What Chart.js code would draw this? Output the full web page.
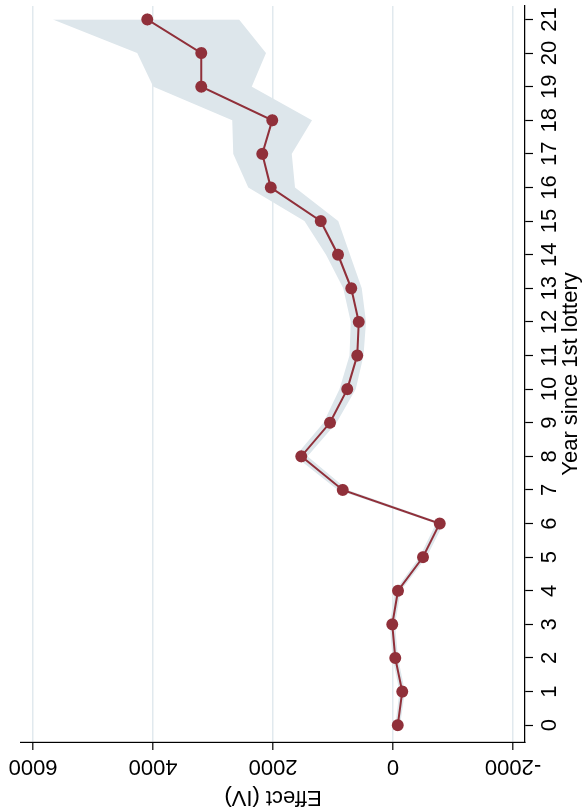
<!DOCTYPE html>
<html>
<head>
<meta charset="utf-8">
<script src="https://cdn.jsdelivr.net/npm/chart.js@4"></script>
<style>
  html, body { margin: 0; padding: 0; background: #fff; overflow: hidden; }
  body { width: 586px; height: 810px; position: relative; }
  /* The graph is laid out landscape and turned a quarter turn counter-clockwise */
  #wrap {
    position: absolute; left: 0; top: 0; width: 810px; height: 586px;
    transform-origin: 0 0;
    transform: translate(0px, 810px) rotate(-90deg);
  }
  canvas { display: block; }
</style>
</head>
<body>
<div id="wrap"><canvas id="c" width="810" height="586"></canvas></div>
<script>
// Years since the first lottery
const years = [0,1,2,3,4,5,6,7,8,9,10,11,12,13,14,15,16,17,18,19,20,21];
// IV point estimates
const effect = [-78,-155,-38,12,-83,-500,-778,838,1528,1050,762,595,572,695,917,1205,2038,2178,2012,3195,3195,4095];
// Confidence interval bounds
const ciUpper = [-38,-110,8,55,-35,-440,-715,920,1630,1160,890,725,705,828,1115,1475,2412,2662,2678,3995,4262,5672];
const ciLower = [-118,-200,-85,-32,-130,-560,-840,755,1425,940,620,490,450,522,717,912,1633,1688,1350,2355,2117,2567];
// Axis ticks and titles
const effectTicks = [-2000, 0, 2000, 4000, 6000];
const yearTicks = years;
const effectTitle = 'Effect (IV)';
const yearTitle = 'Year since 1st lottery';

const FONT = '22px "Liberation Sans", Arial, Helvetica, sans-serif';
const LINE = 'rgb(144,48,58)';
const BAND = '#dde6eb';
const GRID = '#e1e9ee';

const toPts = vals => years.map((yr, i) => ({ x: yr, y: vals[i] }));

// Axis labels: year labels horizontal, effect labels and title turned vertical
const axisText = {
  id: 'axisText',
  afterDraw(chart) {
    const { ctx, chartArea, scales: { x, y } } = chart;
    ctx.save();
    ctx.fillStyle = '#000';
    ctx.font = FONT;
    ctx.textBaseline = 'alphabetic';
    ctx.textAlign = 'center';
    yearTicks.forEach(v => ctx.fillText(String(v), x.getPixelForValue(v), x.top + 31));
    ctx.fillText(yearTitle, (chartArea.left + chartArea.right) / 2, x.top + 52);
    effectTicks.forEach(v => {
      ctx.save();
      ctx.translate(y.right - 18, y.getPixelForValue(v));
      ctx.rotate(-Math.PI / 2);
      ctx.fillText(String(v), 0, 0);
      ctx.restore();
    });
    ctx.save();
    ctx.translate(y.left + 19, (chartArea.top + chartArea.bottom) / 2);
    ctx.rotate(-Math.PI / 2);
    ctx.fillText(effectTitle, 0, 0);
    ctx.restore();
    ctx.restore();
  }
};

new Chart(document.getElementById('c'), {
  type: 'line',
  data: {
    datasets: [
      {
        label: 'Effect',
        data: toPts(effect),
        borderColor: LINE,
        backgroundColor: LINE,
        borderWidth: 2,
        pointRadius: 6,
        pointBorderWidth: 0,
        pointBackgroundColor: LINE,
        fill: false,
        tension: 0
      },
      {
        label: 'Upper',
        data: toPts(ciUpper),
        borderWidth: 0,
        borderColor: 'rgba(0,0,0,0)',
        pointRadius: 0,
        fill: false,
        tension: 0
      },
      {
        label: 'Lower',
        data: toPts(ciLower),
        borderWidth: 0,
        borderColor: 'rgba(0,0,0,0)',
        backgroundColor: BAND,
        pointRadius: 0,
        fill: '-1',
        tension: 0
      }
    ]
  },
  options: {
    responsive: false,
    animation: false,
    devicePixelRatio: 1,
    layout: { padding: { top: 21, right: 4, left: 0, bottom: 0 } },
    plugins: { legend: { display: false }, tooltip: { enabled: false } },
    scales: {
      x: {
        type: 'linear',
        position: 'bottom',
        min: -0.5,
        max: 21.4,
        afterBuildTicks: s => { s.ticks = yearTicks.map(v => ({ value: v })); },
        afterFit: s => { s.height = 61; },
        ticks: { display: false },
        grid: { drawOnChartArea: false, drawTicks: true, tickLength: 8, tickColor: '#000', tickWidth: 1.2 },
        border: { display: true, color: '#000', width: 1.2 },
        title: { display: false }
      },
      y: {
        type: 'linear',
        position: 'left',
        min: -2200,
        max: 6200,
        afterBuildTicks: s => { s.ticks = effectTicks.map(v => ({ value: v })); },
        afterFit: s => { s.width = 68; },
        ticks: { display: false },
        grid: { drawOnChartArea: true, color: GRID, lineWidth: 1.6, drawTicks: true, tickLength: 8, tickColor: '#000', tickWidth: 1.2 },
        border: { display: true, color: '#000', width: 1.2 },
        title: { display: false }
      }
    }
  },
  plugins: [axisText]
});
</script>
</body>
</html>
